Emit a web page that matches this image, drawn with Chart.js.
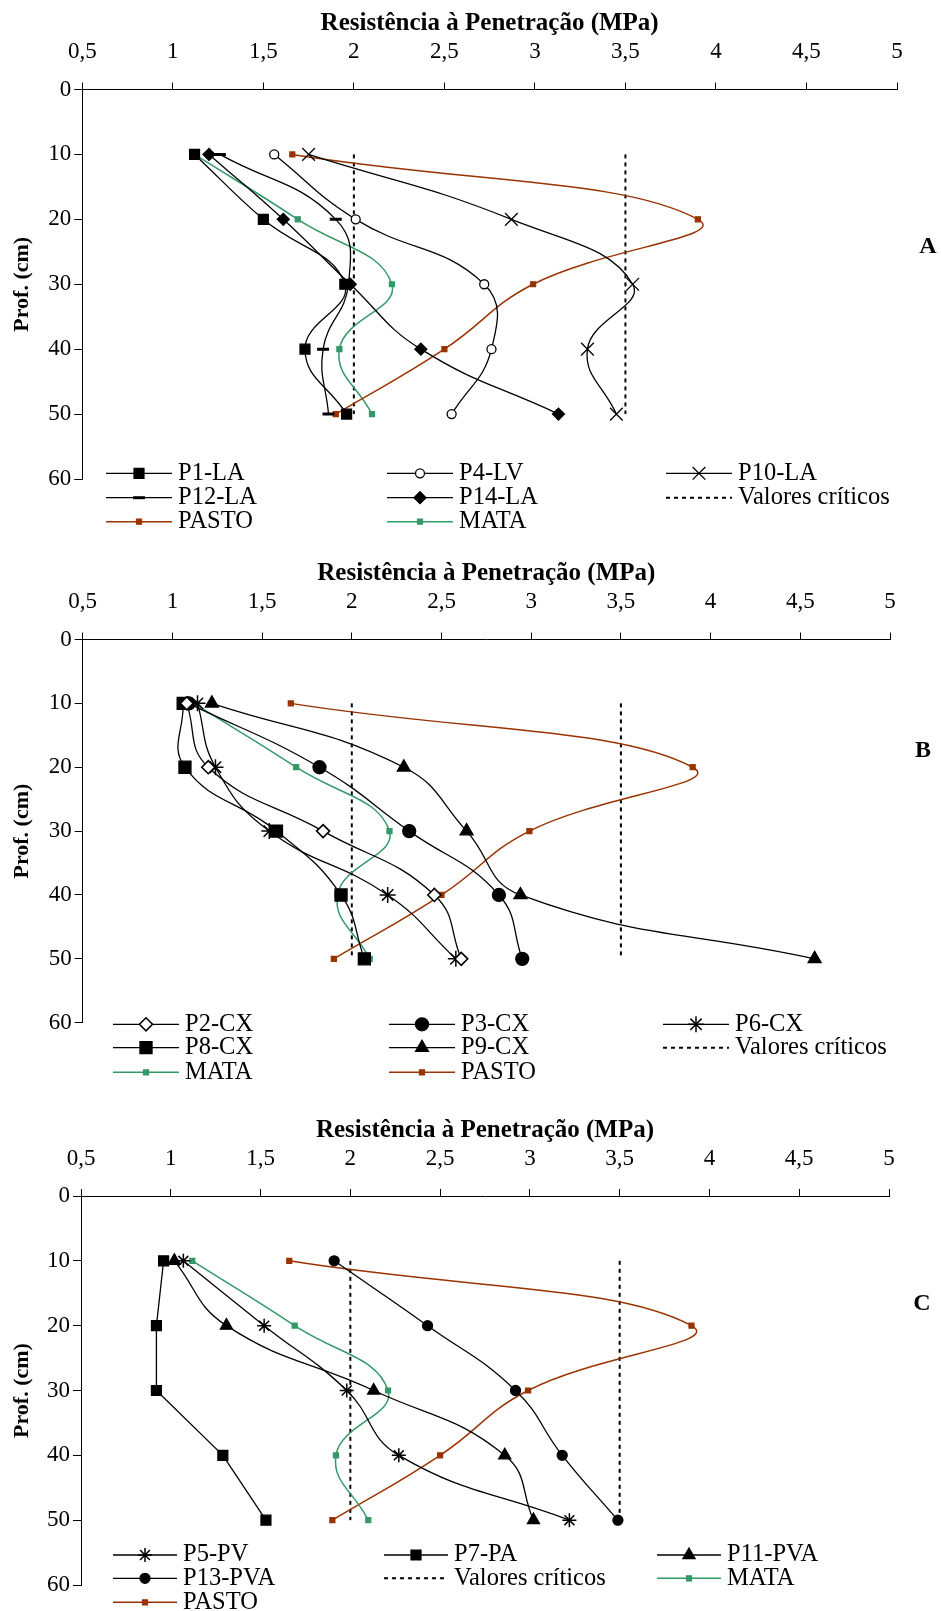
<!DOCTYPE html>
<html lang="pt">
<head>
<meta charset="UTF-8">
<title>Resistência à Penetração</title>
<script src="https://cdn.jsdelivr.net/npm/chart.js@4.4.0/dist/chart.umd.min.js"></script>
<style>
  body { margin: 0; background: #fff; }
  .wrap { position: relative; width: 941px; height: 1611px; }
  canvas { position: absolute; left: 0; }
</style>
</head>
<body>
<div class="wrap">
  <canvas id="chartA" width="941" height="540" style="top:0px"></canvas>
  <canvas id="chartB" width="941" height="550" style="top:540px"></canvas>
  <canvas id="chartC" width="941" height="521" style="top:1090px"></canvas>
</div>
<script>
// profundidades (cm) e valores de resistencia (MPa)
const depths = [10, 20, 30, 40, 50];
const xTickValues = [0.5, 1, 1.5, 2, 2.5, 3, 3.5, 4, 4.5, 5];
const yTickValues = [0, 10, 20, 30, 40, 50, 60];
const criticos = [2, 3.5];
const criticoDepths = [10, 50];

const pasto = [1.66, 3.90, 2.99, 2.50, 1.90];
const mata = [1.12, 1.69, 2.21, 1.92, 2.10];

// A
const p1LA = [1.12, 1.50, 1.95, 1.73, 1.96];
const p4LV = [1.56, 2.01, 2.72, 2.76, 2.54];
const p10LA = [1.75, 2.87, 3.54, 3.29, 3.45];
const p12LA = [1.26, 1.90, 1.97, 1.83, 1.86];
const p14LA = [1.20, 1.61, 1.98, 2.37, 3.13];
// B
const p2CX = [1.08, 1.20, 1.84, 2.46, 2.61];
const p3CX = [1.09, 1.82, 2.32, 2.82, 2.95];
const p6CX = [1.14, 1.24, 1.54, 2.20, 2.58];
const p8CX = [1.06, 1.07, 1.58, 1.94, 2.07];
const p9CX = [1.22, 2.29, 2.64, 2.94, 4.58];
// C
const p5PV = [1.07, 1.52, 1.98, 2.27, 3.22];
const p7PA = [0.96, 0.92, 0.92, 1.29, 1.53];
const p11PVA = [1.02, 1.31, 2.13, 2.86, 3.02];
const p13PVA = [1.91, 2.43, 2.92, 3.18, 3.49];

const FONT = "'Liberation Serif', 'Times New Roman', serif";
const FS = 23;
const LEG_FS = 24.5;
const TICK = 7;
const BROWN = '#993300';
const GREEN = '#339966';

Chart.defaults.font.family = FONT;
Chart.defaults.font.size = FS;
Chart.defaults.color = '#000';

function pts(values) {
  return values.map((v, i) => ({ x: v, y: depths[i] }));
}

function serie(label, values, style, size, fill, color, extra) {
  color = color || '#000';
  return Object.assign({
    label: label,
    data: pts(values),
    showLine: true,
    tension: 0.45,
    borderColor: color,
    borderWidth: color === '#000' ? 1.3 : 1.5,
    pointStyle: style,
    pointRadius: size,
    pointHoverRadius: size,
    pointBackgroundColor: fill,
    pointBorderColor: color,
    pointBorderWidth: 1.3
  }, extra || {});
}

function pastoSerie() { return serie('PASTO', pasto, 'rect', 3.5, BROWN, BROWN); }
function mataSerie() { return serie('MATA', mata, 'rect', 3.5, GREEN, GREEN); }

function criticoSeries() {
  return criticos.map((v, i) => ({
    label: i === 0 ? 'Valores críticos' : 'Valores críticos ' + i,
    data: criticoDepths.map(d => ({ x: v, y: d })),
    showLine: true,
    tension: 0,
    borderColor: '#000',
    borderWidth: 2,
    borderDash: [4, 4],
    pointRadius: 0,
    pointHoverRadius: 0
  }));
}

const fmt = v => String(Math.round(v * 10) / 10).replace('.', ',');

const panelLegend = {
  id: 'panelLegend',
  afterDraw(chart, args, o) {
    const ctx = chart.ctx;
    ctx.save();
    o.items.forEach((name, i) => {
      const x0 = o.cols[i % 3];
      const y = o.rows[Math.floor(i / 3)];
      const ds = chart.data.datasets.find(d => d.label === name);
      ctx.strokeStyle = ds.borderColor;
      ctx.lineWidth = ds.borderWidth;
      ctx.setLineDash(ds.borderDash || []);
      ctx.beginPath();
      ctx.moveTo(x0, y);
      ctx.lineTo(x0 + o.len, y);
      ctx.stroke();
      ctx.setLineDash([]);
      if (ds.pointRadius > 0) {
        ctx.fillStyle = ds.pointBackgroundColor;
        ctx.strokeStyle = ds.pointBorderColor;
        ctx.lineWidth = ds.pointBorderWidth;
        Chart.helpers.drawPoint(ctx, {
          pointStyle: ds.pointStyle,
          radius: ds.pointRadius,
          borderWidth: ds.pointBorderWidth,
          rotation: 0
        }, x0 + o.len / 2, y);
      }
      ctx.fillStyle = '#000';
      ctx.font = LEG_FS + 'px ' + FONT;
      ctx.textAlign = 'left';
      ctx.textBaseline = 'middle';
      ctx.fillText(name, x0 + o.len + 6, y);
    });
    ctx.font = 'bold 24px ' + FONT;
    ctx.textAlign = 'center';
    ctx.textBaseline = 'middle';
    ctx.fillText(o.letter, o.letterX, o.letterY);
    ctx.restore();
  }
};

function buildPanel(cfg) {
  const lh = FS * 1.2;
  new Chart(document.getElementById(cfg.id), {
    type: 'scatter',
    data: { datasets: cfg.datasets },
    options: {
      responsive: false,
      animation: false,
      events: [],
      layout: {
        padding: { top: 0, left: 0, right: 941 - cfg.plotRight, bottom: cfg.height - cfg.plotBottom }
      },
      scales: {
        x: {
          type: 'linear',
          position: 'top',
          min: 0.5,
          max: 5,
          afterBuildTicks: s => { s.ticks = xTickValues.map(v => ({ value: v })); },
          afterFit: s => { s.height = cfg.plotTop; },
          ticks: {
            callback: fmt,
            padding: cfg.plotTop - TICK - lh / 2 - cfg.tickY,
            maxRotation: 0,
            autoSkip: false,
            font: { size: FS, lineHeight: 1.2 }
          },
          grid: { drawOnChartArea: false, drawTicks: true, tickLength: TICK, color: '#000' },
          border: { display: true, color: '#000', width: 1 },
          title: {
            display: true,
            text: 'Resistência à Penetração (MPa)',
            font: { size: 25, weight: 'bold', lineHeight: 1.2 },
            padding: { top: cfg.titleY - 12.5 * 1.2, bottom: 0 }
          }
        },
        y: {
          type: 'linear',
          position: 'left',
          reverse: true,
          min: 0,
          max: 60,
          afterBuildTicks: s => { s.ticks = yTickValues.map(v => ({ value: v })); },
          afterFit: s => { s.width = cfg.plotLeft; },
          ticks: { padding: 3, font: { size: FS, lineHeight: 1.2 } },
          grid: { drawOnChartArea: false, drawTicks: true, tickLength: 8, color: '#000' },
          border: { display: true, color: '#000', width: 1 },
          title: {
            display: true,
            text: 'Prof. (cm)',
            font: { size: 22, weight: 'bold', lineHeight: 1.2 },
            padding: { top: 22.6 - 11 * 1.2, bottom: 0 }
          }
        }
      },
      plugins: {
        legend: { display: false },
        tooltip: { enabled: false },
        panelLegend: cfg
      }
    },
    plugins: [panelLegend]
  });
}

buildPanel({
  id: 'chartA', height: 540, plotTop: 89.5, plotBottom: 479, plotLeft: 82.3, plotRight: 897,
  titleY: 24, tickY: 52,
  rows: [473.3, 497.7, 521.7], cols: [106, 387, 666], len: 66,
  letter: 'A', letterX: 928, letterY: 246.7,
  items: ['P1-LA', 'P4-LV', 'P10-LA', 'P12-LA', 'P14-LA', 'Valores críticos', 'PASTO', 'MATA'],
  datasets: [
    serie('P1-LA', p1LA, 'rect', 7, '#000'),
    serie('P4-LV', p4LV, 'circle', 4.5, '#fff'),
    serie('P10-LA', p10LA, 'crossRot', 9, '#000'),
    serie('P12-LA', p12LA, 'line', 6, '#000', null, { pointBorderWidth: 3 }),
    serie('P14-LA', p14LA, 'rectRot', 6, '#000'),
    pastoSerie(),
    mataSerie()
  ].concat(criticoSeries())
});

buildPanel({
  id: 'chartB', height: 550, plotTop: 99.5, plotBottom: 482.7, plotLeft: 82.7, plotRight: 890,
  titleY: 33.5, tickY: 61.7,
  rows: [484.3, 507.7, 532.3], cols: [113, 389, 663], len: 66,
  letter: 'B', letterX: 923, letterY: 210.7,
  items: ['P2-CX', 'P3-CX', 'P6-CX', 'P8-CX', 'P9-CX', 'Valores críticos', 'MATA', 'PASTO'],
  datasets: [
    serie('P2-CX', p2CX, 'rectRot', 6.5, '#fff', null, { pointBorderWidth: 1.6 }),
    serie('P3-CX', p3CX, 'circle', 6.5, '#000'),
    serie('P6-CX', p6CX, 'star', 8, '#000', null, { pointBorderWidth: 1.5 }),
    serie('P8-CX', p8CX, 'rect', 8.5, '#000'),
    serie('P9-CX', p9CX, 'triangle', 7.5, '#000'),
    mataSerie(),
    pastoSerie()
  ].concat(criticoSeries())
});

buildPanel({
  id: 'chartC', height: 521, plotTop: 106, plotBottom: 495, plotLeft: 81, plotRight: 889,
  titleY: 40.5, tickY: 68.5,
  rows: [465, 488.3, 512.3], cols: [113, 384, 657], len: 64,
  letter: 'C', letterX: 922, letterY: 213.3,
  items: ['P5-PV', 'P7-PA', 'P11-PVA', 'P13-PVA', 'Valores críticos', 'MATA', 'PASTO'],
  datasets: [
    serie('P5-PV', p5PV, 'star', 7, '#000', null, { pointBorderWidth: 1.5 }),
    serie('P7-PA', p7PA, 'rect', 7, '#000', null, { tension: 0 }),
    serie('P11-PVA', p11PVA, 'triangle', 7, '#000'),
    serie('P13-PVA', p13PVA, 'circle', 5, '#000'),
    mataSerie(),
    pastoSerie()
  ].concat(criticoSeries())
});
</script>
</body>
</html>
